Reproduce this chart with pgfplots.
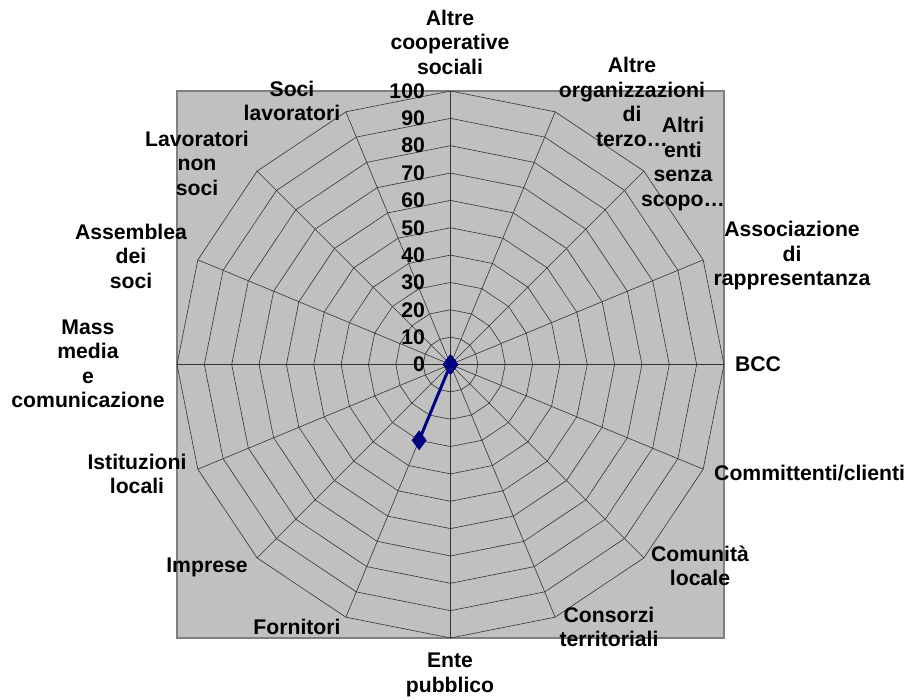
\documentclass[border=0pt]{standalone}
\usepackage{pgfplots}
\pgfplotsset{compat=1.18}
\usepackage{pgfplotstable}
\usepackage{fontspec}
\setmainfont{Liberation Sans}
\definecolor{bgGray}{HTML}{C0C0C0}
\definecolor{frameGray}{HTML}{808080}
\definecolor{serieNavy}{HTML}{000080}

% angle (degrees, counter-clockwise from east) and value for each category
\pgfplotstableread{
angle value
90 0
67.5 0
45 0
22.5 0
0 0
-22.5 0
-45 0
-67.5 0
-90 0
-112.5 30
-135 0
-157.5 0
180 0
157.5 0
135 0
112.5 0
90 0
}\radardata

\begin{document}
\begin{tikzpicture}
\fontsize{21.2}{24.5}\selectfont\bfseries
\path[use as bounding box] (0pt,0pt) rectangle (908pt,-700pt);
\begin{axis}[
  at={(177pt,-638pt)}, anchor=south west,
  scale only axis, width=547pt, height=547pt,
  xmin=-100, xmax=100, ymin=-100, ymax=100,
  ticks=none,
  axis line style={draw=frameGray, line width=2.5pt},
  axis background/.style={fill=bgGray},
  clip=false,
  gridline/.style={black!80, line width=0.6pt, mark=none, forget plot},
]
% concentric polygons
\pgfplotsinvokeforeach{10,20,30,40,50,60,70,80,90,100}{
  \addplot[gridline, data cs=polar] coordinates {
    (90,#1) (67.5,#1) (45,#1) (22.5,#1) (0,#1) (-22.5,#1) (-45,#1) (-67.5,#1)
    (-90,#1) (-112.5,#1) (-135,#1) (-157.5,#1) (180,#1) (157.5,#1) (135,#1) (112.5,#1) (90,#1)};
}
% spokes
\pgfplotsinvokeforeach{90,67.5,45,22.5,0,-22.5,-45,-67.5,-90,-112.5,-135,-157.5,180,157.5,135,112.5}{
  \addplot[gridline, data cs=polar] coordinates {(#1,0) (#1,100)};
}
% series
\addplot[serieNavy, line width=3pt, mark=diamond*, mark size=7.5pt,
  mark options={solid, fill=serieNavy}, data cs=polar] table[x=angle, y=value] {\radardata};
% radial tick labels
\pgfplotsinvokeforeach{0,10,20,30,40,50,60,70,80,90,100}{
  \node[anchor=east, inner sep=0pt] at (axis cs:-9.3,#1) {#1};
}
\end{axis}
\begin{scope}[x=1pt, y=-1pt, every node/.style={align=center, inner sep=0pt}]
\node at (450,42) {Altre\\cooperative\\sociali};
\node at (632,102) {Altre\\organizzazioni\\di\\terzo…};
\node at (683,164) {Altri\\enti\\senza\\scopo…};
\node at (792,256) {Associazione\\di\\rappresentanza};
\node at (758,364) {BCC};
\node[anchor=west] at (714,473) {Committenti/clienti};
\node at (700,566) {Comunità\\locale};
\node at (609,627) {Consorzi\\territoriali};
\node at (450,675) {Ente\\pubblico};
\node at (297,627) {Fornitori};
\node at (207,567) {Imprese};
\node at (137,474) {Istituzioni\\locali};
\node at (88,364) {Mass\\media\\e\\comunicazione};
\node at (131,256) {Assemblea\\dei\\soci};
\node at (197,163) {Lavoratori\\non\\soci};
\node at (292,101) {Soci\\lavoratori};
\end{scope}
\end{tikzpicture}
\end{document}
